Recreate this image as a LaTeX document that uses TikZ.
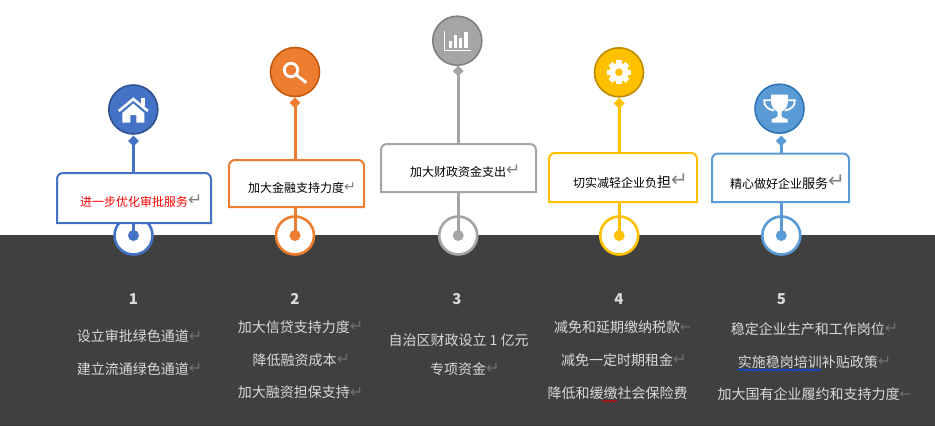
\documentclass[tikz,border=0pt]{standalone}
\usepackage{fontspec}
\setmainfont{Noto Sans CJK SC}
\newfontfamily\retfont{DejaVu Sans}
\usetikzlibrary{shapes.geometric,decorations.pathmorphing}
\definecolor{band}{HTML}{404040}
\definecolor{cA}{HTML}{4472C4}\definecolor{dA}{HTML}{2F528F}
\definecolor{cB}{HTML}{ED7D31}\definecolor{dB}{HTML}{C55A11}
\definecolor{cC}{HTML}{A5A5A5}\definecolor{dC}{HTML}{7F7F7F}
\definecolor{cD}{HTML}{FFC000}\definecolor{dD}{HTML}{BC8C00}
\definecolor{cE}{HTML}{5B9BD5}\definecolor{dE}{HTML}{2E75B6}
\definecolor{lighttext}{HTML}{D9D9D9}
\definecolor{retdark}{HTML}{707070}
\definecolor{retlight}{HTML}{808080}
\newcommand{\retmark}[1]{{\retfont\fontsize{#1}{#1}\selectfont\raisebox{0.5pt}{\textcolor{retlight}{↵}}}}
\newcommand{\retdk}{{\retfont\fontsize{16}{16}\selectfont\raisebox{0.5pt}{\textcolor{retdark}{↵}}}}
\newcommand{\arrdk}{{\retfont\fontsize{13}{13}\selectfont\raisebox{1pt}{\textcolor{retdark}{←}}}}
\tikzset{
  x=1pt,y=-1pt,
  icon circle/.style={circle,minimum size=49pt,inner sep=0pt,line width=1.6pt},
  link dia/.style={diamond,minimum size=11pt,inner sep=0pt},
  ring/.style={circle,minimum size=38pt,inner sep=0pt,line width=2.6pt,draw,fill=white},
  ring dot/.style={circle,minimum size=11pt,inner sep=0pt},
  link/.style={line width=3pt},
  frame/.style={line width=2pt,line join=miter,fill=white},
  top text/.style={anchor=base west,inner sep=0pt,text=black,font=\fontsize{12}{12}\selectfont},
  low text/.style={anchor=base west,inner sep=0pt,text=lighttext,font=\fontsize{14}{14}\selectfont},
  num text/.style={anchor=center,inner sep=0pt,text=lighttext,font=\bfseries\fontsize{15}{15}\selectfont},
  wavy/.style={decorate,decoration={snake,amplitude=0.8pt,segment length=4pt},line width=0.9pt},
}
\begin{document}
\begin{tikzpicture}
\useasboundingbox (0,0) rectangle (935,426);
\fill[band] (0,235) rectangle (935,426);
\foreach \i/\c/\d/\tx/\ty/\cx/\dy/\bl/\bt/\br/\bb in {
  1/cA/dA/133.3/109.5/133.5/141/57/173/211/223,
  2/cB/dB/295/72/295/102.7/229/160/364/207,
  3/cC/dC/457.3/40.7/458.2/71/381/144/536/192,
  4/cD/dD/619/72.3/619.2/103.3/549/153/697/202,
  5/cE/dE/779.5/108.7/781.3/141/712/153.5/849/202}{
  \node[ring,draw=\c] (ring\i) at (\cx,235.5) {};
  \node[ring dot,fill=\c] (dot\i) at (\cx,235.5) {};
  \coordinate (bnw\i) at (\bl,\bt);
  \coordinate (bse\i) at (\br,\bb);
  \node[link dia,fill=\c] (dia\i) at (\cx,\dy) {};
  \node[icon circle,fill=\c,draw=\d] (top\i) at (\tx,\ty) {};
  \draw[link,\c] (dia\i.center) -- (dia\i.center |- bnw\i);
  \draw[link,\c] (dia\i.center |- bse\i) -- (dot\i.center);
  \draw[frame,draw=\c] (bnw\i |- bse\i) [rounded corners=6pt] -- (bnw\i) -- (bse\i |- bnw\i) [sharp corners] -- (bse\i) -- cycle;
}
% home icon
\begin{scope}[shift={(top1.center)}]
  \fill[white] (-11,3.5) -- (0,-6) -- (11,3.5) -- (11,13) -- (3,13) -- (3,5.7) -- (-3,5.7) -- (-3,13) -- (-11,13) -- cycle;
  \draw[white,line width=2.6pt] (-14.5,1.5) -- (0,-10.5) -- (14.5,1.5);
  \fill[white] (8,-12) rectangle (12,-4);
\end{scope}
% magnifier icon
\begin{scope}[shift={(top2.center)}]
  \draw[white,line width=2.8pt] (-4,-2) circle (6.7);
  \draw[white,line width=2.8pt] (1,2.6) -- (11.3,10.7);
\end{scope}
% chart icon
\begin{scope}[shift={(top3.center)}]
  \draw[white,line width=1pt] (-12.7,-9.7) -- (-12.7,9.3) -- (13.7,9.3);
  \fill[white] (-8.3,0) rectangle (-5,7);
  \fill[white] (-3.3,-5.7) rectangle (0,7);
  \fill[white] (1.7,-3) rectangle (5,7);
  \fill[white] (6.7,-8.3) rectangle (10.3,7);
\end{scope}
% gear icon
\begin{scope}[shift={(top4.center)}]
  \foreach \a in {0,45,...,315}{
    \fill[white,rotate=\a] (-2.8,-12) rectangle (2.8,-7);
  }
  \fill[white,even odd rule] (0,0) circle (9.4) (0,0) circle (4);
\end{scope}
% trophy icon
\begin{scope}[shift={(top5.center)}]
  \fill[white] (-8.3,-14) -- (8.3,-14) -- (8.3,-6) .. controls (8.3,-1) and (4,2) .. (2,3) -- (2,7.5) .. controls (2,9) and (5,9.5) .. (8,10.5) -- (8,14) -- (-8,14) -- (-8,10.5) .. controls (-5,9.5) and (-2,9) .. (-2,7.5) -- (-2,3) .. controls (-4,2) and (-8.3,-1) .. (-8.3,-6) -- cycle;
  \draw[white,line width=1.8pt] (-8.3,-8.5) -- (-15.3,-8.5) .. controls (-15.8,-2) and (-11,0.5) .. (-5.5,2);
  \draw[white,line width=1.8pt] (8.3,-8.5) -- (15.3,-8.5) .. controls (15.8,-2) and (11,0.5) .. (5.5,2);
\end{scope}
% top labels
\node[top text,text=red] (t1) at (80,206) {进一步优化审批服务\retmark{17}};
\node[top text] (t2) at (248,192) {加大金融支持力度\retmark{14}};
\node[top text] (t3) at (410,176) {加大财政资金支出\retmark{17}};
\node[top text] (t4) at (573,187) {切实减轻企业负{\fontsize{14}{14}\selectfont 担}\retmark{20}};
\node[top text] (t5) at (730,188) {精心做好企业{\fontsize{13}{13}\selectfont 服务}\retmark{20}};
% numbers
\node[num text] (n1) at (133.5,299) {1};
\node[num text] (n2) at (295,299) {2};
\node[num text] (n3) at (457,299) {3};
\node[num text] (n4) at (619,299) {4};
\node[num text] (n5) at (781.5,299) {5};
% lower labels
\node[low text] (a1) at (76.7,341.5) {设立审批绿色通道\retdk};
\node[low text] (a2) at (76.7,374) {建立流通绿色通道\retdk};
\node[low text] (b1) at (237.7,332) {加大信贷支持力度\retdk};
\node[low text] (b2) at (252.3,365) {降低融资成本\retdk};
\node[low text] (b3) at (237.7,397.5) {加大融资担保支持\retdk};
\node[low text] (c1) at (388.3,345.5) {自治区财政设立 1 亿元};
\node[low text] (c2) at (430,374) {专项资金\retdk};
\node[low text] (d1) at (554,332) {减免和延期缴纳税款\arrdk};
\node[low text] (d2) at (561,365) {减免一定时期租金\retdk};
\node[low text] (d3) at (547.3,398) {降低和缓缴社会保险费};
\node[low text] (e1) at (730.7,334) {稳定企业生产和工作岗位\retdk};
\node[low text] (e2) at (737.7,367) {实施稳岗培训补贴政策\retdk};
\node[low text] (e3) at (717.3,399) {加大国有企业履约和支持力度\arrdk};
% proofing underlines
\draw[wavy,red!85!black] (602.3,401) -- (617.3,401);
\draw[wavy,blue!70!cyan] (737.7,370) -- (821.7,370);
\end{tikzpicture}
\end{document}
